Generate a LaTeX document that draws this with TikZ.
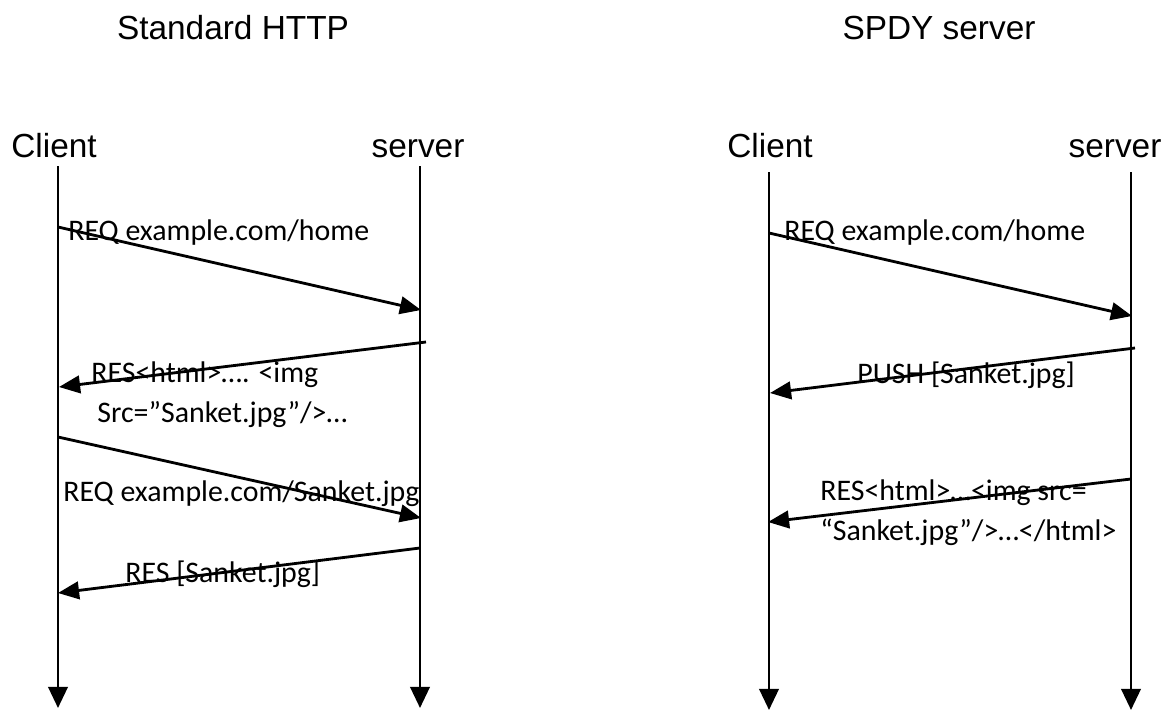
\documentclass[tikz,border=0pt]{standalone}
\usepackage{fontspec}
\setmainfont{Liberation Sans}
\newfontfamily\msgfont{Carlito}
\usetikzlibrary{arrows.meta}
\tikzset{
  life/.style={line width=1.6pt,-{Triangle[length=12pt,width=11pt]}},
  msg/.style={line width=1.6pt,-{Triangle[length=12pt,width=10pt]}},
  who/.style={font=\fontsize{19}{22}\selectfont,inner sep=0pt,anchor=base},
  txt/.style={font=\msgfont\fontsize{17}{20}\selectfont,inner sep=0pt,anchor=west}
}
\begin{document}
\begin{tikzpicture}[x=0.02cm,y=-0.02cm]
                  \useasboundingbox (0,0) rectangle (1168,713);

                  % titles
                  \node[who] (t1) at (233,40) {Standard HTTP};
                  \node[who] (t2) at (939,40) {SPDY server};

                  % standard http
                  \node[who] (hc) at (54,157) {Client};
                  \node[who] (hs) at (418,157) {server};
                  \coordinate (hct) at (58,166);  \coordinate (hcb) at (58,708);
                  \coordinate (hst) at (420,166); \coordinate (hsb) at (420,708);
                  \draw[life] (hct) -- (hcb);
                  \draw[life] (hst) -- (hsb);

                  \coordinate (a1) at (58,227);  \coordinate (b1) at (421,310);
                  \coordinate (a2) at (426,342); \coordinate (b2) at (59,387);
                  \coordinate (a3) at (58,437);  \coordinate (b3) at (421,518);
                  \coordinate (a4) at (420,548); \coordinate (b4) at (58,593);
                  \draw[msg] (a1) -- (b1);
                  \draw[msg] (a2) -- (b2);
                  \draw[msg] (a3) -- (b3);
                  \draw[msg] (a4) -- (b4);
                  \node[txt] (l1) at (68,233) {REQ example.com/home};
                  \node[txt] (l2) at (91,375) {RES<html>\dots. <img};
                  \node[txt] (l2b) at (97,415) {Src=”Sanket.jpg”/>\dots};
                  \node[txt] (l3) at (63,494) {REQ example.com/Sanket.jpg};
                  \node[txt] (l4) at (125,574) {RES [Sanket.jpg]};

                  % spdy
                  \node[who] (sc) at (770,157) {Client};
                  \node[who] (ss) at (1115,157) {server};
                  \coordinate (sct) at (769,172);  \coordinate (scb) at (769,710);
                  \coordinate (sst) at (1131,172); \coordinate (ssb) at (1131,710);
                  \draw[life] (sct) -- (scb);
                  \draw[life] (sst) -- (ssb);

                  \coordinate (p1) at (769,233);  \coordinate (q1) at (1132,316);
                  \coordinate (p2) at (1135,348); \coordinate (q2) at (770,393);
                  \coordinate (p3) at (1131,479); \coordinate (q3) at (768,522);
                  \draw[msg] (p1) -- (q1);
                  \draw[msg] (p2) -- (q2);
                  \draw[msg] (p3) -- (q3);
                  \node[txt] (m1) at (784,233) {REQ example.com/home};
                  \node[txt] (m2) at (857,375) {PUSH [Sanket.jpg]};
                  \node[txt] (m3) at (820,493) {RES<html>\dots<img src=};
                  \node[txt] (m3b) at (820,532) {“Sanket.jpg”/>\dots</html>};

              \end{tikzpicture}
\end{document}
